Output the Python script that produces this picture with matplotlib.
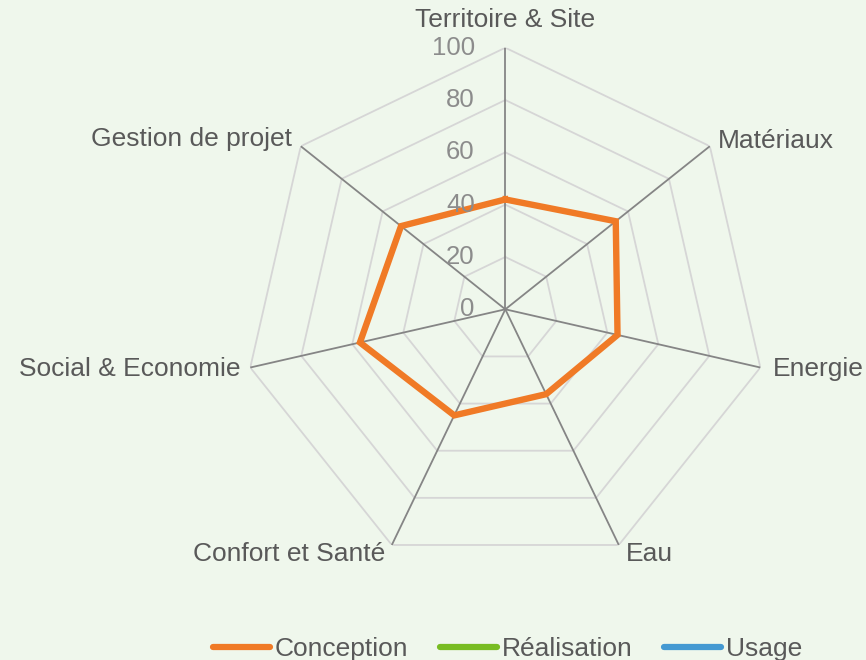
import numpy as np
import matplotlib
matplotlib.use("Agg")
import matplotlib.pyplot as plt

categories = ["Territoire & Site", "Matériaux", "Energie", "Eau",
              "Confort et Santé", "Social & Economie", "Gestion de projet"]
conception = [42, 54, 44, 36, 45, 57, 51]
realisation = [0, 0, 0, 0, 0, 0, 0]
usage = [0, 0, 0, 0, 0, 0, 0]
series_names = ["Conception", "Réalisation", "Usage"]
r_ticks = [0, 20, 40, 60, 80, 100]

colors = ["#F07A26", "#78BC22", "#4499D2"]
bg = "#EFF7EC"
plt.rcParams['font.family'] = ['Liberation Sans', 'DejaVu Sans']

fig = plt.figure(figsize=(8.66, 6.6), dpi=100, facecolor=bg)
ax = fig.add_axes([0.2814, 0.135, 0.6042, 0.7927], projection='polar')
ax.set_facecolor('none')
ax.set_theta_zero_location('N')
ax.set_theta_direction(-1)
ax.set_ylim(0, 100)
ax.grid(False)
ax.spines['polar'].set_visible(False)
ax.set_xticks([])
ax.set_yticks([])

n = len(categories)
angles = np.arange(n) * 2 * np.pi / n
closed = np.append(angles, angles[0])

# polygon gridlines
for r in r_ticks[1:]:
    ax.plot(closed, [r] * (n + 1), color="#D6D6D6", lw=1.3, zorder=1)
# spokes
for a in angles:
    ax.plot([a, a], [0, 100], color="#858585", lw=1.3, zorder=2)

# series
for vals, name, c in [(usage, "Usage", colors[2]), (realisation, "Réalisation", colors[1]),
                      (conception, "Conception", colors[0])]:
    v = np.append(vals, vals[0])
    ax.plot(closed, v, color=c, lw=4.6, zorder=5, label=name, solid_joinstyle='miter')

# radial tick labels
for r in r_ticks:
    ax.annotate(str(r), xy=(0, r), xytext=(-22, 0), textcoords='offset points',
                ha='right', va='center', fontsize=18.5, color="#8C8C8C", zorder=6)

# category labels
offsets = [(0, 20, 'center', 'center'), (6, 4, 'left', 'center'), (9, -1, 'left', 'center'),
           (5, -6.5, 'left', 'center'), (-5, -6.5, 'right', 'center'),
           (-7, -1, 'right', 'center'), (-6, 5, 'right', 'center')]
for a, lab, (dx, dy, ha, va) in zip(angles, categories, offsets):
    ax.annotate(lab, xy=(a, 100), xytext=(dx, dy), textcoords='offset points',
                ha=ha, va=va, fontsize=19, color="#595959", annotation_clip=False)

handles, labels = ax.get_legend_handles_labels()
order = [labels.index(s) for s in series_names]
leg = fig.legend([handles[i] for i in order], [labels[i] for i in order],
                 loc='center', bbox_to_anchor=(0.586, 0.017), ncol=3, frameon=False,
                 fontsize=19, handlelength=2.16, handletextpad=0.19, columnspacing=1.18,
                 labelcolor="#595959")
for h in leg.get_lines():
    h.set_linewidth(4.5)
    h.set_solid_capstyle('round')

fig.savefig("out.png", dpi=100, facecolor=bg)
